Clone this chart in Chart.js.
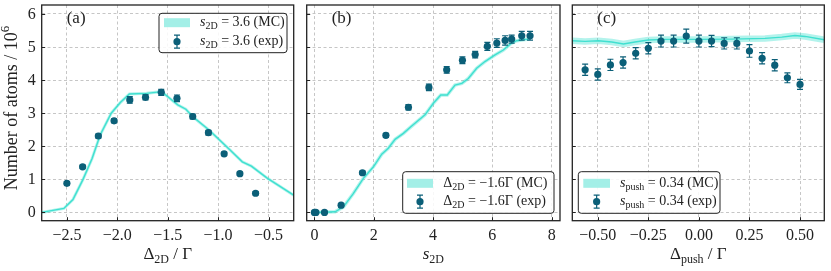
<!DOCTYPE html>
<html><head><meta charset="utf-8">
<script src="https://cdn.jsdelivr.net/npm/chart.js@4/dist/chart.umd.min.js"></script>
<style>
html,body{margin:0;padding:0;background:#fff;}
#wrap{position:relative;width:831px;height:271px;overflow:hidden;}
canvas{position:absolute;left:0;top:0;}
</style></head><body>
<div id="wrap">
<canvas id="ca" width="831" height="271"></canvas>
<canvas id="cb" width="831" height="271"></canvas>
<canvas id="cc" width="831" height="271"></canvas>
</div>
<script>
// ---------- data ----------
const yTicks = [0,1,2,3,4,5,6];
const yTickLabels = ['0','1','2','3','4','5','6'];

const xTicksA = [-2.5,-2.0,-1.5,-1.0,-0.5];
const xTickLabelsA = ['\u22122.5','\u22122.0','\u22121.5','\u22121.0','\u22120.5'];
const xTicksB = [0,2,4,6,8];
const xTickLabelsB = ['0','2','4','6','8'];
const xTicksC = [-0.5,-0.25,0,0.25,0.5];
const xTickLabelsC = ['\u22120.50','\u22120.25','0.00','0.25','0.50'];

// panel (a)
const expAx = [-2.5,-2.344,-2.188,-2.032,-1.876,-1.72,-1.564,-1.408,-1.252,-1.096,-0.94,-0.784,-0.628];
const expAy = [0.88,1.38,2.31,2.77,3.40,3.48,3.63,3.45,2.90,2.41,1.77,1.17,0.58];
const expAerr = [0.05,0.05,0.06,0.06,0.10,0.08,0.09,0.10,0.07,0.07,0.05,0.05,0.05];
const mcAx = [-2.75,-2.53,-2.44,-2.34,-2.25,-2.17,-2.06,-1.97,-1.88,-1.71,-1.56,-1.48,-1.40,-1.32,-1.25,-1.09,-0.92,-0.76,-0.67,-0.51,-0.25];
const mcAy = [0.0,0.12,0.39,1.0,1.63,2.34,3.0,3.32,3.58,3.60,3.65,3.45,3.25,3.12,2.89,2.49,2.0,1.53,1.40,1.03,0.52];

// panel (b)
const expBx = [0,0.05,0.34,0.9,1.62,2.41,3.17,3.86,4.46,4.99,5.42,5.83,6.15,6.43,6.65,6.99,7.27];
const expBy = [0,0,0,0.22,1.20,2.33,3.18,3.78,4.31,4.60,4.77,5.02,5.12,5.20,5.24,5.34,5.34];
const expBerr = [0.03,0.03,0.03,0.05,0.05,0.06,0.08,0.10,0.10,0.10,0.10,0.12,0.13,0.14,0.12,0.13,0.13];
const mcBx = [0,0.70,0.98,1.31,1.65,1.99,2.27,2.49,2.72,3.0,3.28,3.73,4.01,4.26,4.48,4.74,4.97,5.19,5.47,5.75,6.09,6.37,6.63,6.82,7.10,7.27];
const mcBy = [0,0.02,0.17,0.57,1.03,1.38,1.76,1.94,2.21,2.39,2.61,2.95,3.30,3.55,3.55,3.85,3.90,4.05,4.36,4.56,4.76,4.91,5.11,5.19,5.23,5.24];

// panel (c)
const expCx = [-0.5625,-0.5,-0.4375,-0.375,-0.3125,-0.25,-0.1875,-0.125,-0.0625,0,0.0625,0.125,0.1875,0.25,0.3125,0.375,0.4375,0.5];
const expCy = [4.31,4.17,4.46,4.53,4.81,4.96,5.18,5.18,5.33,5.18,5.18,5.11,5.11,4.88,4.66,4.45,4.07,3.87];
const expCerr = [0.17,0.17,0.17,0.17,0.17,0.17,0.18,0.18,0.21,0.18,0.17,0.17,0.17,0.19,0.17,0.17,0.15,0.15];
const mcCx = [-0.626,-0.563,-0.497,-0.431,-0.373,-0.316,-0.25,-0.167,0,0.162,0.327,0.41,0.475,0.525,0.62];
const mcCy = [5.19,5.17,5.19,5.15,5.09,5.15,5.21,5.23,5.23,5.24,5.26,5.30,5.35,5.32,5.22];

// ---------- style ----------
const FONT = '"Liberation Serif", "DejaVu Serif", serif';
const TICK_FS = 16, LABEL_FS = 17, YT_FS = 18, LEG_FS = 14;
const EXP_COL = '#0b5f78';
const MC_COL = '#40e0d0';
const MC_HALO = 'rgba(64,224,208,0.4)';
const PATCH_COL = '#a3efe7';
const AX_COL = '#222';

function fontOf(p, size){
  const s = (p.sub||p.sup) ? Math.round(size*0.72) : size;
  return (p.italic?'italic ':'') + s + 'px ' + FONT;
}
function richWidth(ctx, parts, size){
  let w=0; parts.forEach(p=>{ctx.font=fontOf(p,size); w+=ctx.measureText(p.t).width;}); return w;
}
function drawRich(ctx, parts, x, y, size, align){
  const w = richWidth(ctx, parts, size);
  let cx = align==='center' ? x-w/2 : (align==='right' ? x-w : x);
  ctx.textBaseline='middle'; ctx.textAlign='left'; ctx.fillStyle=AX_COL;
  parts.forEach(p=>{
    ctx.font=fontOf(p,size);
    const dy = p.sub ? size*0.28 : (p.sup ? -size*0.38 : 0);
    ctx.fillText(p.t, cx, y+dy);
    cx += ctx.measureText(p.t).width;
  });
}
function errMarker(ctx, x, y, half){
  ctx.strokeStyle=EXP_COL; ctx.lineWidth=1.2;
  ctx.beginPath(); ctx.moveTo(x,y-half); ctx.lineTo(x,y+half);
  ctx.moveTo(x-3,y-half); ctx.lineTo(x+3,y-half);
  ctx.moveTo(x-3,y+half); ctx.lineTo(x+3,y+half); ctx.stroke();
  ctx.fillStyle=EXP_COL; ctx.beginPath(); ctx.arc(x,y,3.6,0,Math.PI*2); ctx.fill();
}

const decor = {
  id:'decor',
  beforeDatasetDraw(chart, args, opts){
    if(args.index!==0) return;
    const ctx=chart.ctx, xs=chart.scales.x, ys=chart.scales.y;
    const ds=chart.data.datasets[0], err=opts.err;
    ctx.save();
    ctx.beginPath(); ctx.rect(chart.chartArea.left,chart.chartArea.top,chart.chartArea.width,chart.chartArea.height); ctx.clip();
    ctx.strokeStyle=EXP_COL; ctx.lineWidth=1.2;
    ds.data.forEach((d,i)=>{
      const px=xs.getPixelForValue(d.x);
      const y1=ys.getPixelForValue(d.y+err[i]), y2=ys.getPixelForValue(d.y-err[i]);
      ctx.beginPath(); ctx.moveTo(px,y1); ctx.lineTo(px,y2);
      ctx.moveTo(px-3,y1); ctx.lineTo(px+3,y1);
      ctx.moveTo(px-3,y2); ctx.lineTo(px+3,y2); ctx.stroke();
    });
    ctx.restore();
  },
  afterDraw(chart, args, opts){
    const ctx=chart.ctx, a=chart.chartArea, xs=chart.scales.x, ys=chart.scales.y;
    ctx.save();
    ctx.strokeStyle=AX_COL; ctx.lineWidth=1;
    ctx.fillStyle=AX_COL; ctx.font=TICK_FS+'px '+FONT; ctx.textBaseline='middle';
    xs.ticks.forEach((t,i)=>{
      const p=xs.getPixelForValue(t.value), pr=Math.round(p)+0.5;
      ctx.beginPath(); ctx.moveTo(pr,a.bottom); ctx.lineTo(pr,a.bottom-3.5); ctx.stroke();
      ctx.textAlign='center'; ctx.fillText(opts.xl[i], p, a.bottom+15.5);
    });
    ys.ticks.forEach((t,i)=>{
      const p=ys.getPixelForValue(t.value), pr=Math.round(p)+0.5;
      ctx.beginPath(); ctx.moveTo(a.left,pr); ctx.lineTo(a.left+3.5,pr); ctx.stroke();
      if(opts.showY){ ctx.textAlign='right'; ctx.fillText(yTickLabels[i], a.left-6, p+0.5); }
    });
    ctx.lineWidth=1.3; ctx.strokeRect(a.left,a.top,a.width,a.height);
    ctx.fillStyle=AX_COL; ctx.font=LABEL_FS+'px '+FONT; ctx.textBaseline='middle'; ctx.textAlign='left';
    ctx.fillText(opts.label, a.left+opts.labelDx, a.top+opts.labelDy);
    drawRich(ctx, opts.xTitle, (a.left+a.right)/2, opts.xTitleY, LABEL_FS, 'center');
    if(opts.yTitle){
      ctx.save(); ctx.translate(opts.yTitleX, 108); ctx.rotate(-Math.PI/2);
      drawRich(ctx, opts.yTitle, 0, 0, YT_FS, 'center'); ctx.restore();
    }
    const L=opts.legend;
    ctx.beginPath(); ctx.roundRect(L.x0,L.y0,L.x1-L.x0,L.y1-L.y0,3);
    ctx.fillStyle='rgba(255,255,255,0.85)'; ctx.fill();
    ctx.strokeStyle=AX_COL; ctx.lineWidth=1; ctx.stroke();
    ctx.fillStyle=PATCH_COL; ctx.fillRect(L.px0, L.r1-4.5, L.px1-L.px0, 9);
    errMarker(ctx, (L.px0+L.px1)/2, L.r2, 6.5);
    drawRich(ctx, L.t1, L.tx, L.r1, LEG_FS, 'left');
    drawRich(ctx, L.t2, L.tx, L.r2, LEG_FS, 'left');
    ctx.restore();
  }
};
Chart.register(decor);

function pts(xs,ys){ return xs.map((x,i)=>({x:x,y:ys[i]})); }

function makeChart(id, cfg){
  return new Chart(document.getElementById(id),{
    type:'scatter',
    data:{datasets:[
      {data:pts(cfg.ex,cfg.ey),showLine:false,pointRadius:3.6,pointHoverRadius:3.6,backgroundColor:EXP_COL,borderWidth:0},
      {data:pts(cfg.mx,cfg.my),showLine:true,pointRadius:0,borderColor:MC_COL,borderWidth:cfg.core,tension:0},
      {data:pts(cfg.mx,cfg.my),showLine:true,pointRadius:0,borderColor:MC_HALO,borderWidth:cfg.halo,tension:0}
    ]},
    options:{
      responsive:false,animation:false,devicePixelRatio:1,
      layout:{padding:{left:0,top:5,right:cfg.padRight,bottom:0}},
      plugins:{legend:{display:false},tooltip:{enabled:false},
        decor:{err:cfg.err,xl:cfg.xl,showY:cfg.showY,label:cfg.label,labelDx:cfg.labelDx,labelDy:14,xTitle:cfg.xTitle,xTitleY:255,yTitle:cfg.yTitle,yTitleX:12,legend:cfg.legend}},
      scales:{
        x:{type:'linear',min:cfg.xmin,max:cfg.xmax,
          afterBuildTicks:s=>{s.ticks=cfg.xt.map(v=>({value:v}));},
          afterFit:s=>{s.height=50.3;},
          ticks:{display:false},
          grid:{color:'#b8b8b8',lineWidth:0.8,drawTicks:false},
          border:{display:false,dash:[3,2.5]}},
        y:{type:'linear',min:-0.25,max:6.27,
          afterBuildTicks:s=>{s.ticks=yTicks.map(v=>({value:v}));},
          afterFit:s=>{s.width=cfg.yWidth;},
          ticks:{display:false},
          grid:{color:'#b8b8b8',lineWidth:0.8,drawTicks:false},
          border:{display:false,dash:[3,2.5]}}
      }
    }
  });
}

const s2D=[{t:'s',italic:true},{t:'2D',sub:true}];
const d2D=[{t:'\u0394'},{t:'2D',sub:true}];
const sPush=[{t:'s',italic:true},{t:'push',sub:true}];

makeChart('ca',{ex:expAx,ey:expAy,err:expAerr,mx:mcAx,my:mcAy,halo:3,core:1.4,
  xmin:-2.75,xmax:-0.25,xt:xTicksA,xl:xTickLabelsA,yWidth:41.7,padRight:831-293.7,showY:true,
  label:'(a)',labelDx:25,
  xTitle:d2D.concat([{t:' / \u0393'}]),
  yTitle:[{t:'Number of atoms / 10'},{t:'6',sup:true}],
  legend:{x0:159,y0:13.3,x1:287,y1:52.7,px0:164,px1:190,r1:22.7,r2:41.7,tx:200,
    t1:s2D.concat([{t:' = 3.6 (MC)'}]),t2:s2D.concat([{t:' = 3.6 (exp)'}])}});

makeChart('cb',{ex:expBx,ey:expBy,err:expBerr,mx:mcBx,my:mcBy,halo:3.5,core:1.4,
  xmin:-0.26,xmax:8.28,xt:xTicksB,xl:xTickLabelsB,yWidth:306.7,padRight:831-560,showY:false,
  label:'(b)',labelDx:25,
  xTitle:s2D,yTitle:null,
  legend:{x0:402.7,y0:171.7,x1:554,y1:213.3,px0:407,px1:433,r1:183.3,r2:201.7,tx:443.3,
    t1:d2D.concat([{t:' = \u22121.6\u0393 (MC)'}]),t2:d2D.concat([{t:' = \u22121.6\u0393 (exp)'}])}});

makeChart('cc',{ex:expCx,ey:expCy,err:expCerr,mx:mcCx,my:mcCy,halo:6.5,core:1.4,
  xmin:-0.626,xmax:0.62,xt:xTicksC,xl:xTickLabelsC,yWidth:572.3,padRight:831-824.3,showY:false,
  label:'(c)',labelDx:25,
  xTitle:[{t:'\u0394'},{t:'push',sub:true},{t:' / \u0393'}],yTitle:null,
  legend:{x0:578.3,y0:171.7,x1:720,y1:213.3,px0:583.3,px1:610,r1:183.3,r2:201.7,tx:620,
    t1:sPush.concat([{t:' = 0.34 (MC)'}]),t2:sPush.concat([{t:' = 0.34 (exp)'}])}});
</script>
</body></html>
